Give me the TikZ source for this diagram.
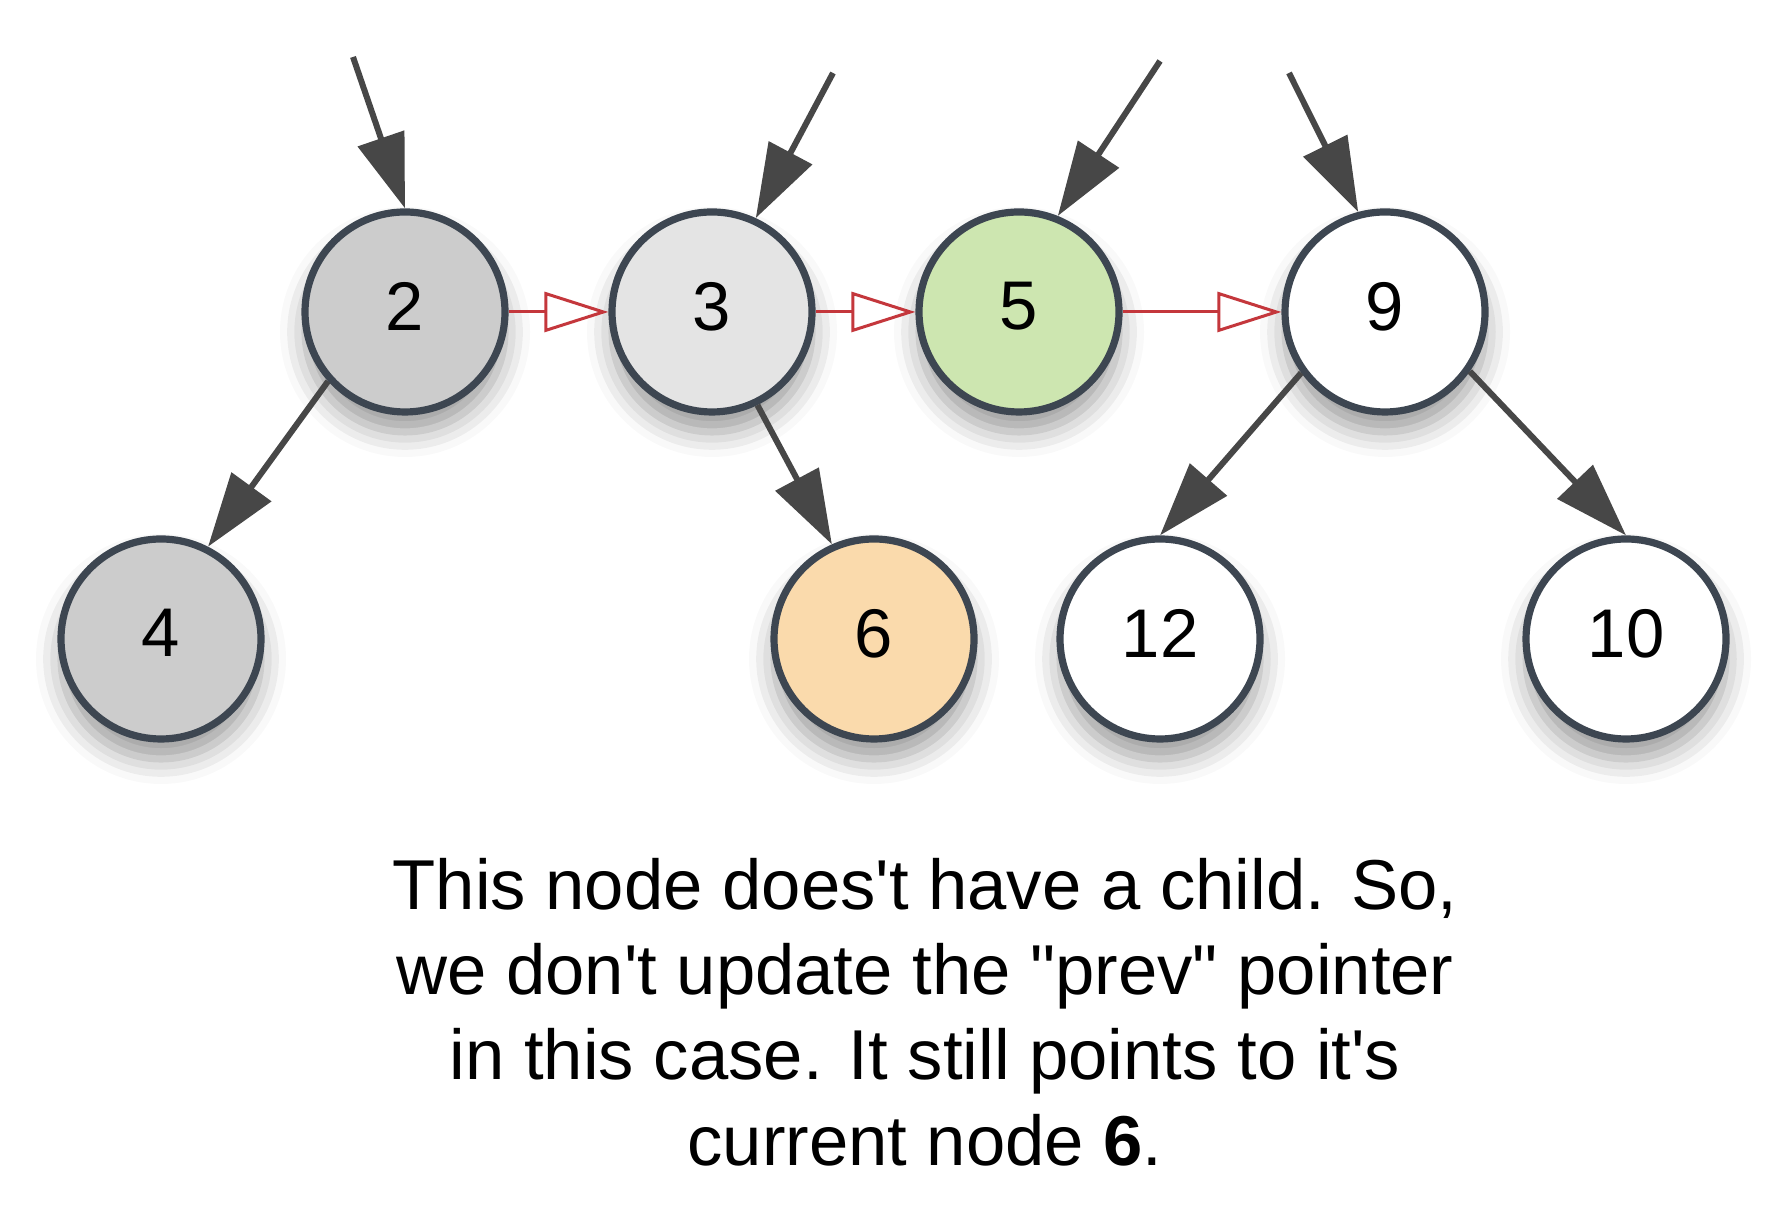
\documentclass[tikz,border=0pt]{standalone}
\usepackage{fontspec}
\setmainfont{Liberation Sans}[Ligatures=TeXOff]
\usetikzlibrary{arrows.meta,shadows.blur}
\definecolor{rim}{HTML}{3D4651}
\definecolor{edge}{HTML}{474747}
\definecolor{prevred}{HTML}{C4373C}
\definecolor{visited}{HTML}{CCCCCC}
\definecolor{onstack}{HTML}{E4E4E4}
\definecolor{current}{HTML}{CDE6B0}
\definecolor{prevnode}{HTML}{FADAAC}

\begin{document}
\begin{tikzpicture}[
    tree/.style={circle,draw=rim,line width=0.72mm,minimum size=2cm,inner sep=0pt,fill=white,
        font=\fontsize{19.6}{24}\selectfont,text depth=1.2mm,
        blur shadow={shadow xshift=0pt,shadow yshift=-2mm,shadow blur radius=2.5mm,shadow opacity=40}},
    child/.style={draw=edge,line width=0.6mm,-{Triangle[length=7.4mm,width=4.8mm]}},
    prev/.style={draw=prevred,line width=0.3mm,-{Triangle[open,length=6.4mm,width=4mm]}}]
    \useasboundingbox (0,0) rectangle (17.82,12.22);

    % upper row
    \node[tree,fill=visited] (n2) at (4.05,9.10){2};
    \node[tree,fill=onstack] (n3) at (7.12,9.10){3};
    \node[tree,fill=current] (n5) at (10.19,9.10){5};
    \node[tree] (n9) at (13.85,9.10){9};
    % lower row
    \node[tree,fill=visited] (n4) at (1.61,5.83){4};
    \node[tree,fill=prevnode] (n6) at (8.74,5.83){6};
    \node[tree] (n12) at (11.60,5.83){12};
    \node[tree] (n10) at (16.26,5.83){10};

    % incoming pointers
    \coordinate (in2) at (3.53,11.65);
    \coordinate (in3) at (8.33,11.49);
    \coordinate (in5) at (11.60,11.61);
    \coordinate (in9) at (12.89,11.49);
    \draw[child] (in2)--(n2.90);
    \draw[child] (in3)--(n3.65);
    \draw[child] (in5)--(n5.68);
    \draw[child] (in9)--(n9.105);

    % children
    \draw[child] (n2.222)--(n4.63);
    \draw[child] (n3.296)--(n6.114);
    \draw[child] (n9.216)--(n12.90);
    \draw[child] (n9.325)--(n10.90);

    % prev links
    \draw[prev] (n2.east)--(n3.west);
    \draw[prev] (n3.east)--(n5.west);
    \draw[prev] (n5.east)--(n9.west);

    \node[font=\fontsize{20.1}{24.2}\selectfont,align=center,anchor=north,inner sep=0pt] (note) at (9.25,3.64)
        {This node does't have a child. So,\\we don't update the "prev" pointer\\in this case. It still points to it's\\current node \textbf{6}.};
\end{tikzpicture}
\end{document}
